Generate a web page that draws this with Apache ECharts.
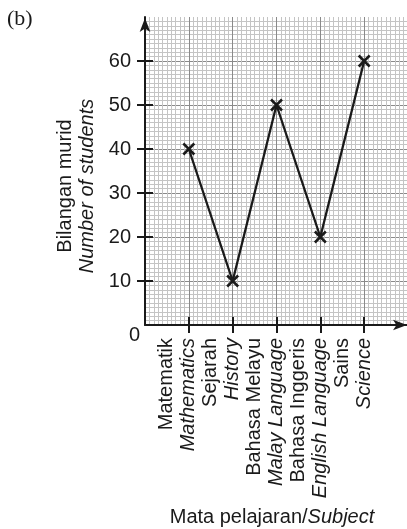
<!DOCTYPE html>
<html>
<head>
<meta charset="utf-8">
<script src="https://cdn.jsdelivr.net/npm/echarts@6/dist/echarts.min.js"></script>
<style>
html,body{margin:0;padding:0;background:#fff;}
#chart{width:407px;height:529px;}
</style>
</head>
<body>
<div id="chart"></div>
<script>
const catMalay = ['Matematik', 'Sejarah', 'Bahasa Melayu', 'Bahasa Inggeris', 'Sains'];
const catEnglish = ['Mathematics', 'History', 'Malay Language', 'English Language', 'Science'];
const catPos = [1, 2, 3, 4, 5];
const students = [40, 10, 50, 20, 60];
const yTicks = [10, 20, 30, 40, 50, 60];

const FONT = 'Liberation Sans, Arial, Helvetica, sans-serif';
const INK = '#1a1a1a';

const chart = echarts.init(document.getElementById('chart'), null, {renderer: 'canvas'});

const seriesData = catPos.map((p, i) => [p, students[i]]);

const option = {
  animation: false,
  backgroundColor: '#fff',
  grid: {left: 145, top: 17, width: 263, bottom: 204, containLabel: false, outerBoundsMode: 'none'},
  xAxis: [{
    type: 'value', min: 0, max: 6, interval: 1, position: 'bottom',
    axisLine: {show: true, onZero: false, lineStyle: {color: INK, width: 2},
      symbol: ['none', 'arrow'], symbolSize: [8, 14], symbolOffset: [0, -1]},
    axisTick: {show: true, length: 8, lineStyle: {color: INK, width: 2}, customValues: catPos},
    axisLabel: {
      show: true, rotate: 90, margin: 13, customValues: catPos,
      padding: [0, 0, 22, 0],
      formatter: v => '{a|' + catMalay[v - 1] + '}\n{b|' + catEnglish[v - 1] + '}',
      rich: {
        a: {fontSize: 20, fontFamily: FONT, color: INK, lineHeight: 22},
        b: {fontSize: 20, fontFamily: FONT, color: INK, lineHeight: 22, fontStyle: 'italic'}
      }
    },
    splitLine: {show: true, lineStyle: {color: '#8a8a8a', width: 1}},
    minorTick: {show: false, splitNumber: 10},
    minorSplitLine: {show: true, lineStyle: {color: '#c4c4c4', width: 1}},
    name: 'Mata pelajaran/{i|Subject}', nameLocation: 'middle', nameGap: 182,
    nameTextStyle: {fontSize: 20, fontFamily: FONT, color: INK, padding: [0, 9, 0, 0],
      rich: {i: {fontSize: 20, fontFamily: FONT, color: INK, fontStyle: 'italic'}}}
  }, {
    type: 'value', min: 0, max: 6, interval: 1, position: 'bottom', gridIndex: 0,
    axisLine: {show: false},
    axisTick: {show: true, inside: true, length: 8, lineStyle: {color: INK, width: 2}, customValues: catPos},
    axisLabel: {show: false},
    splitLine: {show: false}
  }],
  yAxis: [{
    type: 'value', min: 0, max: 70, interval: 10, position: 'left',
    axisLine: {show: true, onZero: false, lineStyle: {color: INK, width: 2},
      symbol: ['none', 'arrow'], symbolSize: [8, 14], symbolOffset: [0, -1]},
    axisTick: {show: true, length: 8, lineStyle: {color: INK, width: 2}, customValues: yTicks},
    axisLabel: {show: true, margin: 14, fontSize: 20, fontFamily: FONT, color: INK, customValues: yTicks},
    splitLine: {show: true, lineStyle: {color: '#8a8a8a', width: 1}},
    minorTick: {show: false, splitNumber: 10},
    minorSplitLine: {show: true, lineStyle: {color: '#c4c4c4', width: 1}},
    name: '{a|Bilangan murid}\n{b|Number of students}', nameLocation: 'middle', nameGap: 47,
    nameTextStyle: {padding: [0, 30, 0, 0],
      rich: {
        a: {fontSize: 20, fontFamily: FONT, color: INK, lineHeight: 22},
        b: {fontSize: 20, fontFamily: FONT, color: INK, lineHeight: 22, fontStyle: 'italic'}
      }}
  }, {
    type: 'value', min: 0, max: 70, interval: 10, position: 'left', gridIndex: 0,
    axisLine: {show: false},
    axisTick: {show: true, inside: true, length: 8, lineStyle: {color: INK, width: 2}, customValues: yTicks},
    axisLabel: {show: false},
    splitLine: {show: false}
  }],
  series: [{
    type: 'line', xAxisIndex: 0, yAxisIndex: 0,
    data: seriesData,
    lineStyle: {color: INK, width: 2.3},
    symbol: 'path://M0,0L10,10M10,0L0,10', symbolSize: 11, symbolKeepAspect: true,
    itemStyle: {color: INK, borderColor: INK, borderWidth: 2.5},
    z: 5
  }]
};
chart.setOption(option);

const origin = chart.convertToPixel({gridIndex: 0}, [0, 0]);
chart.setOption({
  graphic: [{
    type: 'text', left: 7, top: 8,
    style: {text: '(b)', font: '22px "Liberation Serif", "Times New Roman", serif', fill: INK}
  }, {
    type: 'text', x: origin[0] - 5, y: origin[1] + 10,
    style: {text: '0', font: '20px ' + FONT, fill: INK, align: 'right', verticalAlign: 'middle'}
  }]
});
</script>
</body>
</html>
